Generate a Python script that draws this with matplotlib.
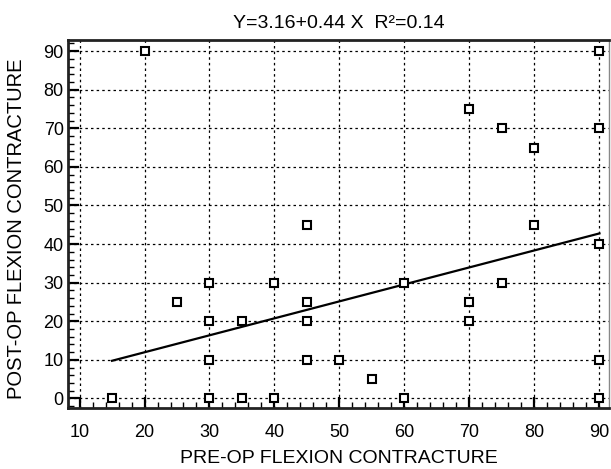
import matplotlib
matplotlib.use("Agg")
import matplotlib.pyplot as plt
import numpy as np
from matplotlib.ticker import MultipleLocator

pre_op = [15, 20, 25, 30, 30, 30, 30, 35, 35, 40, 40, 45, 45, 45, 45, 50, 55,
          60, 60, 70, 70, 70, 75, 75, 80, 80, 90, 90, 90, 90, 90]
post_op = [0, 90, 25, 30, 20, 10, 0, 20, 0, 30, 0, 45, 25, 20, 10, 10, 5,
           30, 0, 75, 25, 20, 70, 30, 65, 45, 90, 70, 40, 10, 0]
intercept = 3.16
slope = 0.44
r_squared = 0.14
x_ticks = [10, 20, 30, 40, 50, 60, 70, 80, 90]
y_ticks = [0, 10, 20, 30, 40, 50, 60, 70, 80, 90]

plt.rcParams['font.family'] = ['Liberation Sans', 'DejaVu Sans']

fig = plt.figure(figsize=(6.11, 4.69), dpi=100)
ax = fig.add_axes([0.111, 0.1307, 0.886, 0.785])

line_x = np.array([min(pre_op), max(pre_op)])
ax.plot(line_x, intercept + slope * line_x, color='black', lw=1.6, zorder=3)
ax.plot(pre_op, post_op, linestyle='none', marker='s', markersize=5.5,
        markerfacecolor='white', markeredgecolor='black', markeredgewidth=1.5, zorder=4)

ax.set_xlim(8.2, 91.5)
ax.set_ylim(-2.4, 93)
ax.set_xticks(x_ticks)
ax.set_yticks(y_ticks)
ax.xaxis.set_minor_locator(MultipleLocator(2))
ax.yaxis.set_minor_locator(MultipleLocator(2))
ax.grid(True, which='major', color='black', linestyle=(0, (2, 2.5)), linewidth=0.9)
ax.set_axisbelow(True)

ax.tick_params(which='major', direction='in', length=8, width=1.6, labelsize=13,
               top=False, right=False)
ax.tick_params(axis='y', which='major', pad=3)
ax.tick_params(axis='x', which='major', pad=11.5)
ax.tick_params(which='minor', direction='in', length=4, width=1.0, top=False, right=False)

for side in ['left', 'bottom', 'top']:
    ax.spines[side].set_linewidth(2.0)
    ax.spines[side].set_color('#222222')
ax.spines['right'].set_linewidth(1.0)
ax.spines['right'].set_color('#888888')

ax.set_xlabel('PRE-OP FLEXION CONTRACTURE', fontsize=14, labelpad=7)
ax.set_ylabel('POST-OP FLEXION CONTRACTURE', fontsize=14.5, labelpad=7)
ax.yaxis.set_label_coords(-0.078, 0.485)
ax.set_title(f'Y={intercept:.2f}+{slope:.2f} X  R\u00b2={r_squared:.2f}', fontsize=14, pad=8)

fig.savefig('out.png', dpi=100)
